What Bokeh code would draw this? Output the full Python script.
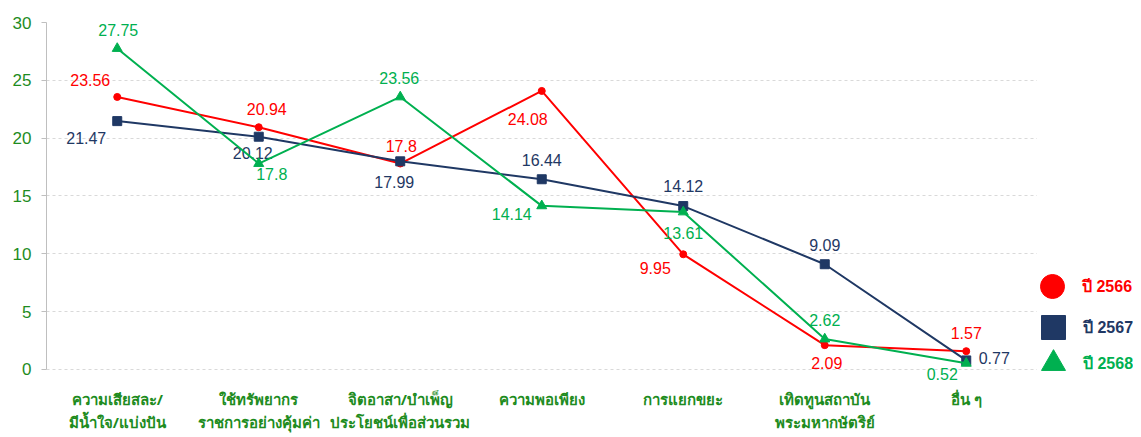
from bokeh.plotting import figure
from bokeh.models import ColumnDataSource, Legend, LegendItem, Range1d, FixedTicker, BoxAnnotation
from bokeh.core.properties import value
from bokeh.embed import file_html
from bokeh.resources import INLINE

categories = [
    "ความเสียสละ/\nมีน้ำใจ/แบ่งปัน",
    "ใช้ทรัพยากร\nราชการอย่างคุ้มค่า",
    "จิตอาสา/บำเพ็ญ\nประโยชน์เพื่อส่วนรวม",
    "ความพอเพียง",
    "การแยกขยะ",
    "เทิดทูนสถาบัน\nพระมหากษัตริย์",
    "อื่น ๆ",
]
series_names = ["ปี 2566", "ปี 2567", "ปี 2568"]
y2566 = [23.56, 20.94, 17.8, 24.08, 9.95, 2.09, 1.57]
y2567 = [21.47, 20.12, 17.99, 16.44, 14.12, 9.09, 0.77]
y2568 = [27.75, 17.8, 23.56, 14.14, 13.61, 2.62, 0.52]
y_ticks = [0, 5, 10, 15, 20, 25, 30]

# label offsets in screen pixels (style only)
off2566 = [(-27, -17), (8, -18), (1, -18), (-14, 28), (-28, 14), (2, 18), (0, -18)]
off2567 = [(-31, 17), (-6, 16), (-6, 21), (0, -19), (0, -20), (0, -19), (28, -2)]
off2568 = [(1, -19), (13, 10), (-1, -19), (-30, 8), (0, 21), (0, -19), (-24, 11)]

colors = ["#FF0000", "#1F3864", "#00B050"]
markers = ["circle", "square", "triangle"]
msizes = [7, 9, 10]
tick_green = "#1E8C1E"
num_font = "Liberation Sans"

# category slots: centre of slot i sits at i + 0.5
xs = [i + 0.5 for i in range(len(categories))]
n_slots = len(categories)

p = figure(
    x_range=Range1d(0, 7.682),
    y_range=Range1d(-1.4, 30),
    frame_width=1087, frame_height=363,
    min_border_left=46, min_border_top=22, min_border_bottom=50, min_border_right=0,
    output_backend="svg", toolbar_location=None,
)
p.outline_line_color = None
p.background_fill_color = "white"
p.border_fill_color = "white"

p.xgrid.grid_line_color = None
p.ygrid.grid_line_color = "#D9D9D9"
p.ygrid.grid_line_dash = "3 3"
p.ygrid.grid_line_width = 1

# white mask so the grid stops at the end of the category area (legend zone)
p.add_layout(BoxAnnotation(left=n_slots, fill_color="white", fill_alpha=1,
                           line_color=None, level="underlay"))

p.yaxis.ticker = FixedTicker(ticks=y_ticks)
p.yaxis.bounds = (0, 30)
p.yaxis.axis_line_color = "#BFBFBF"
p.yaxis.major_tick_line_color = "#BFBFBF"
p.yaxis.major_tick_out = 5
p.yaxis.major_tick_in = 0
p.yaxis.minor_tick_line_color = None
p.yaxis.major_label_text_color = tick_green
p.yaxis.major_label_text_font = num_font
p.yaxis.major_label_text_font_size = "17px"
p.yaxis.major_label_standoff = 10

p.xaxis.ticker = FixedTicker(ticks=xs)
p.xaxis.major_label_overrides = {x: c for x, c in zip(xs, categories)}
p.xaxis.axis_line_color = None
p.xaxis.major_tick_line_color = None
p.xaxis.major_tick_out = 0
p.xaxis.major_tick_in = 0
p.xaxis.minor_tick_line_color = None
p.xaxis.major_label_text_color = tick_green
p.xaxis.major_label_text_font = "Noto Sans"
p.xaxis.major_label_text_font_size = "15px"
p.xaxis.major_label_text_font_style = "bold"
p.xaxis.major_label_text_line_height = 1.15
p.xaxis.major_label_standoff = 3

legend_locs = [(976, 69), (977, 28), (977, -8)]
all_vals = [y2566, y2567, y2568]
all_offs = [off2566, off2567, off2568]

for name, vals, offs, col, mk, ms, loc in zip(series_names, all_vals, all_offs, colors, markers, msizes, legend_locs):
    src = ColumnDataSource(dict(
        x=xs, y=vals,
        lab=[f"{v:g}" for v in vals],
        dx=[o[0] for o in offs], dy=[o[1] for o in offs],
    ))
    p.line("x", "y", source=src, line_color=col, line_width=2)
    sr = p.scatter("x", "y", source=src, marker=mk, size=ms, fill_color=col, line_color=col)
    p.text("x", "y", text="lab", source=src, x_offset="dx", y_offset="dy",
           text_align="center", text_baseline="middle", text_color=col,
           text_font=value(num_font), text_font_size="16px")
    leg = Legend(items=[LegendItem(label=name, renderers=[sr])],
                 location=loc, glyph_width=60, glyph_height=60,
                 label_standoff=-15, padding=0, margin=0,
                 border_line_color=None, background_fill_alpha=0,
                 label_text_color=col, label_text_font=num_font,
                 label_text_font_size="16px", label_text_font_style="bold")
    p.add_layout(leg)

open("out.html", "w").write(file_html(p, INLINE))
